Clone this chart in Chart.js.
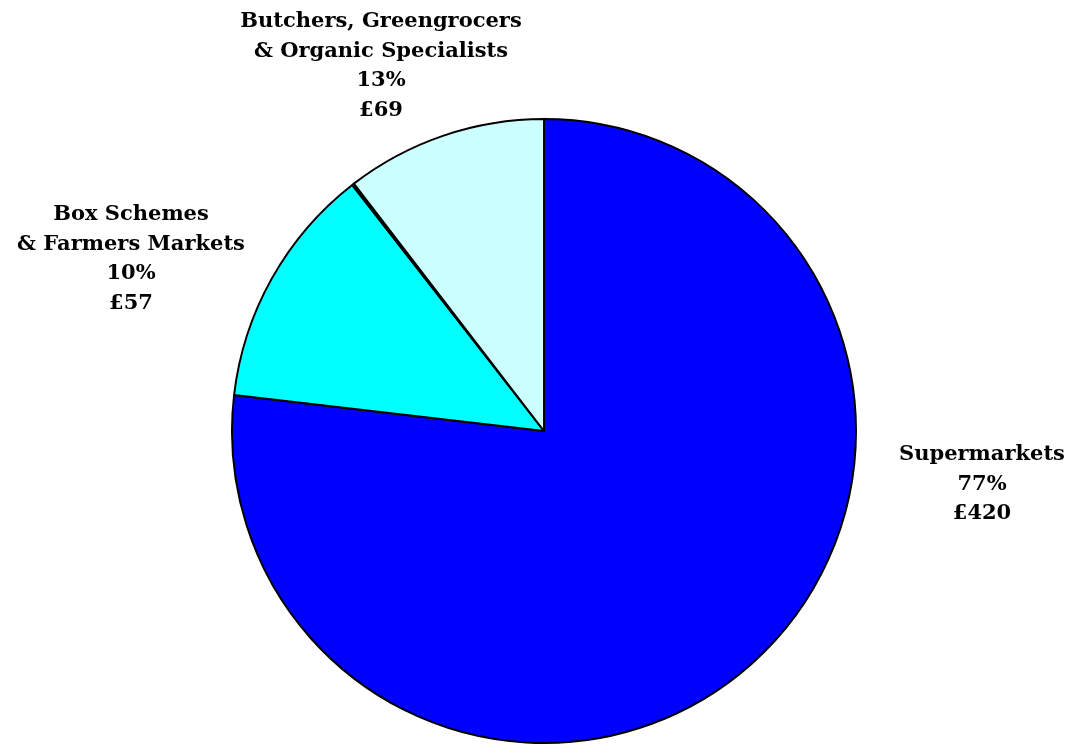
<!DOCTYPE html>
<html>
<head>
<meta charset="utf-8">
<script src="https://cdn.jsdelivr.net/npm/chart.js@4"></script>
<style>
  html, body { margin: 0; padding: 0; background: #fff; }
  #wrap { width: 1070px; height: 746px; }
</style>
</head>
<body>
<div id="wrap"><canvas id="pie" width="1070" height="746"></canvas></div>
<script>
// slices in drawing order, clockwise from 12 o'clock
const categories = ['Supermarkets', 'Box Schemes & Farmers Markets', '', 'Butchers, Greengrocers & Organic Specialists'];
const values = [420, 69, 0.6, 57];
// text written beside each slice, as printed on the chart
const nameLines = [['Supermarkets'], ['Box Schemes', '& Farmers Markets'], [], ['Butchers, Greengrocers', '& Organic Specialists']];
const percentLabels = ['77%', '10%', '', '13%'];
const amountLabels = ['£420', '£57', '', '£69'];

const sliceColors = ['#0000ff', '#00ffff', '#ffffff', '#ccffff'];
// label block centre (x) and first-line y for each slice
const labelSpots = [[982, 455], [131, 215], null, [381, 22]];

const labelPlugin = {
    id: 'sliceLabels',
    afterDraw(chart) {
        const ctx = chart.ctx;
        ctx.save();
        ctx.font = 'bold 21px "DejaVu Serif"';
        ctx.fillStyle = '#000';
        ctx.textAlign = 'center';
        ctx.textBaseline = 'middle';
        categories.forEach((c, i) => {
            const spot = labelSpots[i];
            if (!spot) return;
            const lines = nameLines[i].concat([percentLabels[i], amountLabels[i]]);
            lines.forEach((t, j) => {
                ctx.fillText(t, spot[0], spot[1] + j * 29.5);
            });
        });
        ctx.restore();
    }
};

new Chart(document.getElementById('pie'), {
    type: 'pie',
    data: {
        labels: categories,
        datasets: [{
            data: values,
            backgroundColor: sliceColors,
            borderColor: '#000',
            borderWidth: 2
        }]
    },
    options: {
        responsive: false,
        animation: false,
        layout: { padding: { left: 231, right: 213, top: 118, bottom: 2 } },
        plugins: {
            legend: { display: false },
            tooltip: { enabled: false }
        }
    },
    plugins: [labelPlugin]
});
</script>
</body>
</html>
